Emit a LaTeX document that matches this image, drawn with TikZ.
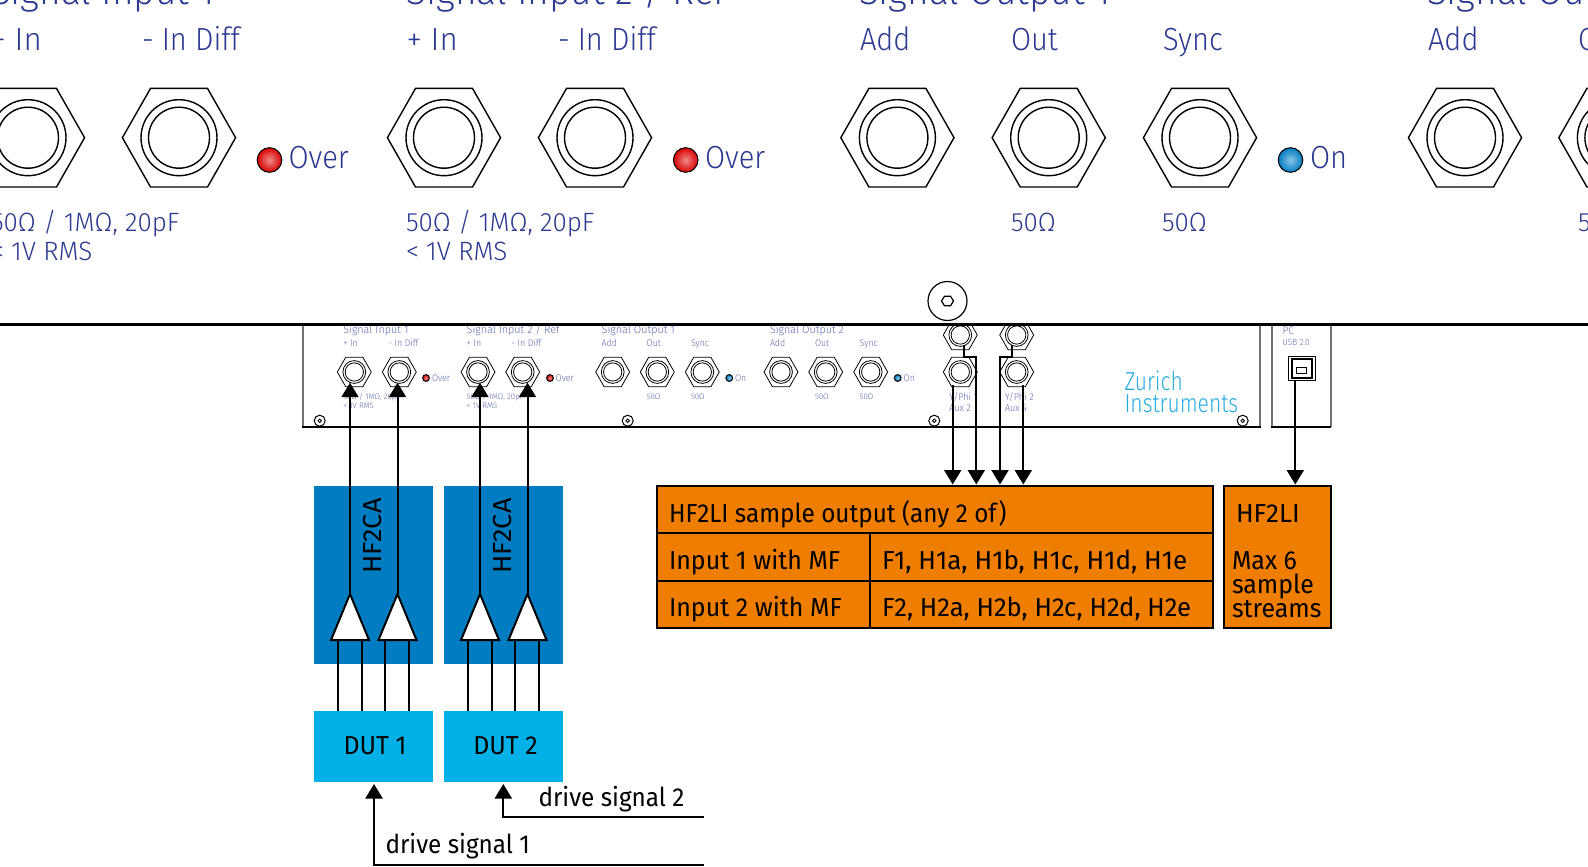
\documentclass[tikz,border=0pt]{standalone}
\usepackage{fontspec}
\setmainfont{Fira Sans}
\newfontfamily\pfont[FakeStretch=0.91]{Fira Sans Light}
\newfontfamily\wfont[FakeStretch=0.98]{Fira Sans Light}
\newfontfamily\bfont[FakeStretch=0.96]{Fira Sans}
\newfontfamily\bnfont[FakeStretch=0.935]{Fira Sans}
\newfontfamily\bwfont[FakeStretch=1.0]{Fira Sans}
\newfontfamily\bxfont[FakeStretch=0.985]{Fira Sans}
\newfontfamily\zfont[FakeStretch=0.81]{Fira Sans Light}
\usetikzlibrary{arrows.meta}
\definecolor{panelblue}{RGB}{43,57,144}
\definecolor{smallblue}{RGB}{95,105,175}
\definecolor{hfblue}{RGB}{0,124,195}
\definecolor{dutblue}{RGB}{0,176,230}
\definecolor{orangebox}{RGB}{239,125,0}
\definecolor{zurichblue}{RGB}{41,171,226}
\tikzset{
  x=1pt,y=-1pt,
  conn/.style={line width=2pt,draw=black,-{Triangle[length=14.5pt,width=17pt]}},
  wire/.style={line width=2pt,draw=black},
  ptext/.style={anchor=base west,inner sep=0pt,outer sep=0pt,text=panelblue,font=\pfont\fontsize{#1}{#1}\selectfont},
  wtext/.style={anchor=base west,inner sep=0pt,outer sep=0pt,text=panelblue,font=\wfont\fontsize{#1}{#1}\selectfont},
  stext/.style={anchor=base west,inner sep=0pt,outer sep=0pt,text=smallblue,font=\pfont\fontsize{#1}{#1}\selectfont},
  swtext/.style={anchor=base west,inner sep=0pt,outer sep=0pt,text=smallblue,font=\wfont\fontsize{#1}{#1}\selectfont},
  btext/.style={anchor=base west,inner sep=0pt,outer sep=0pt,text=black,font=\bfont\fontsize{26}{26}\selectfont},
  bntext/.style={anchor=base west,inner sep=0pt,outer sep=0pt,text=black,font=\bnfont\fontsize{26}{26}\selectfont},
  bwtext/.style={anchor=base west,inner sep=0pt,outer sep=0pt,text=black,font=\bwfont\fontsize{26}{26}\selectfont},
  bxtext/.style={anchor=base west,inner sep=0pt,outer sep=0pt,text=black,font=\bxfont\fontsize{26}{26}\selectfont},
  ztext/.style={anchor=base west,inner sep=0pt,outer sep=0pt,text=zurichblue,font=\zfont\fontsize{26}{26}\selectfont},
  fillbox/.style={inner sep=0pt,outer sep=0pt,draw=none},
  ampbox/.style={draw=black,line width=2pt,fill=white,line join=miter},
  panelside/.style={line width=1.6pt,draw=black!55},
  panelbase/.style={line width=1.2pt,draw=black},
}
\newcommand{\jack}[5]{%
  \coordinate (#1) at (#2,#3);
  \begin{scope}[shift={(#2,#3)},scale=#4,line width=#5pt,draw=black]
    \draw (-56.6,0) -- (-28.5,-49.3) -- (28.5,-49.3) -- (56.6,0) -- (28.5,49.3) -- (-28.5,49.3) -- cycle;
    \draw (0,0) circle[radius=38];
    \draw (0,0) circle[radius=30.5];
  \end{scope}}
\newcommand{\led}[5]{%
  \coordinate (#1) at (#2,#3);
  \shade[inner color=#5!45!white,outer color=#5] (#2,#3) circle[radius=#4];
  \draw[black,line width=1pt] (#2,#3) circle[radius=#4];}
\newcommand{\screw}[3]{%
  \coordinate (#1) at (#2,#3);
  \draw[line width=1pt] (#2,#3) circle[radius=5.5];
  \draw[line width=.8pt] (#2,#3) circle[radius=1.8];}
\begin{document}
\begin{tikzpicture}
\useasboundingbox (0,0) rectangle (1588,867);
\clip (0,0) rectangle (1588,867);
% ---------- large front view
\node[wtext=37.8] (ti1) at (-9,5) {Signal Input 1};
\node[wtext=37.8] (ti2) at (406.5,5) {Signal Input 2 / Ref};
\node[wtext=37.8] (to1) at (859,5) {Signal Output 1};
\node[wtext=37.8] (to2) at (1427,5) {Signal Output 2};
\node[wtext=32] (l1) at (-9.5,51) {+ In};
\node[ptext=32] (l2) at (142,51) {- In Diff};
\node[wtext=32] (l3) at (406.5,51) {+ In};
\node[ptext=32] (l4) at (558,51) {- In Diff};
\node[ptext=32] (l5) at (860,51) {Add};
\node[ptext=32] (l6) at (1011,51) {Out};
\node[ptext=32] (l7) at (1163,51) {Sync};
\node[ptext=32] (l8) at (1428,51) {Add};
\node[ptext=32] (l9) at (1578,51) {Out};
\jack{ja}{28}{137.7}{1}{1.4}
\jack{jb}{179}{137.7}{1}{1.4}
\jack{jc}{444}{137.7}{1}{1.4}
\jack{jd}{595}{137.7}{1}{1.4}
\jack{je}{897.4}{137.7}{1}{1.4}
\jack{jf}{1048.7}{137.7}{1}{1.4}
\jack{jg}{1200}{137.7}{1}{1.4}
\jack{jh}{1465}{137.7}{1}{1.4}
\jack{ji}{1615.4}{137.7}{1}{1.4}
\led{lda}{269.5}{160}{12.3}{red!85!black}
\led{ldb}{685.7}{160}{12.3}{red!85!black}
\led{ldc}{1290.5}{160}{12.3}{hfblue}
\node[ptext=32] (o1) at (288.5,168) {Over};
\node[ptext=32] (o2) at (705,168) {Over};
\node[ptext=32] (o3) at (1310,168) {On};
\node[wtext=26.5] (s1) at (-9,231) {50Ω / 1MΩ, 20pF};
\node[wtext=26.5] (s2) at (-9,260) {< 1V RMS};
\node[wtext=26.5] (s3) at (406,231) {50Ω / 1MΩ, 20pF};
\node[wtext=26.5] (s4) at (406,260) {< 1V RMS};
\node[wtext=26.5] (s5) at (1011,231) {50Ω};
\node[wtext=26.5] (s6) at (1162,231) {50Ω};
\node[wtext=26.5] (s7) at (1578,231) {50Ω};
% ---------- bolt
\coordinate (bolt) at (947.5,301);
\draw[line width=1.2pt] (bolt) circle[radius=19.5];
\draw[line width=1.2pt] (941.5,301) -- (944.5,296.2) -- (950.5,296.2) -- (953.5,301) -- (950.5,305.8) -- (944.5,305.8) -- cycle;
% ---------- small rear panel
\draw[panelside] (302.7,324) -- (302.7,427);
\draw[panelside] (1260,324) -- (1260,427);
\draw[panelbase] (302,427) -- (1260.8,427);
\draw[panelside] (1271.7,324) -- (1271.7,427);
\draw[panelside] (1330.7,324) -- (1330.7,427);
\draw[panelbase] (1271,427) -- (1331.4,427);
\node[swtext=11] (sta) at (343.3,333) {Signal Input 1};
\node[swtext=11] (stb) at (466.7,333) {Signal Input 2 / Ref};
\node[swtext=11] (stc) at (601.7,333) {Signal Output 1};
\node[swtext=11] (std) at (770,333) {Signal Output 2};
\node[stext=9.7] (p1) at (343.3,346) {+ In};
\node[stext=9.7] (p2) at (388.7,346) {- In Diff};
\node[stext=9.7] (p3) at (466.7,346) {+ In};
\node[stext=9.7] (p4) at (511.7,346) {- In Diff};
\node[stext=9.7] (p5) at (601.7,346) {Add};
\node[stext=9.7] (p6) at (646.7,346) {Out};
\node[stext=9.7] (p7) at (691,346) {Sync};
\node[stext=9.7] (p8) at (770,346) {Add};
\node[stext=9.7] (p9) at (815,346) {Out};
\node[stext=9.7] (p10) at (859.7,346) {Sync};
\jack{sa}{354.3}{372}{.3}{.8}
\jack{sb}{399.3}{372}{.3}{.8}
\jack{sc}{478}{372}{.3}{.8}
\jack{sd}{522.7}{372}{.3}{.8}
\jack{se}{612.7}{372}{.3}{.8}
\jack{sf}{657.3}{372}{.3}{.8}
\jack{sg}{702.3}{372}{.3}{.8}
\jack{sh}{781}{372}{.3}{.8}
\jack{si}{825.7}{372}{.3}{.8}
\jack{sj}{870.7}{372}{.3}{.8}
\led{lde}{426}{378}{3.4}{red!85!black}
\led{ldf}{550}{378}{3.4}{red!85!black}
\led{ldg}{729.3}{378}{3.4}{hfblue}
\led{ldh}{897.7}{378}{3.4}{hfblue}
\node[stext=9.7] (v1) at (432,381) {Over};
\node[stext=9.7] (v2) at (555.7,381) {Over};
\node[stext=9.7] (v3) at (735,381) {On};
\node[stext=9.7] (v4) at (903.7,381) {On};
\node[swtext=8] (m1) at (343.3,399.3) {50Ω / 1MΩ, 20pF};
\node[swtext=8] (m2) at (343.3,408) {< 1V RMS};
\node[swtext=8] (m3) at (466.7,399.3) {50Ω / 1MΩ, 20pF};
\node[swtext=8] (m4) at (466.7,408) {< 1V RMS};
\node[swtext=8] (m5) at (646.7,399.3) {50Ω};
\node[swtext=8] (m6) at (691,399.3) {50Ω};
\node[swtext=8] (m7) at (815,399.3) {50Ω};
\node[swtext=8] (m8) at (859.7,399.3) {50Ω};
\screw{sc1}{319.7}{420.7}
\screw{sc2}{627.7}{420.7}
\screw{sc3}{934.3}{420.7}
\screw{sc4}{1242.7}{420.7}
\begin{scope}
  \clip (900,324) rectangle (1060,440);
  \jack{ya}{960.3}{335}{.3}{.8}
  \jack{yb}{1016.7}{335}{.3}{.8}
\end{scope}
\jack{yc}{960.3}{372}{.3}{.8}
\jack{yd}{1016.7}{372}{.3}{.8}
\node[stext=10] (y1) at (949.3,400) {Y/Phi 1};
\node[stext=10] (y2) at (949.3,411.7) {Aux 2};
\node[stext=10] (y3) at (1005,400) {Y/Phi 2};
\node[stext=10] (y4) at (1005,411.7) {Aux 4};
\node[ztext] (z1) at (1124.5,390) {Zurich};
\node[ztext] (z2) at (1124.5,412.3) {Instruments};
\node[stext=11] (pc) at (1282.7,334) {PC};
\node[stext=9] (usb) at (1282.7,345.7) {USB 2.0};
\node[draw=black,line width=1pt,fill=white,minimum width=26.7pt,minimum height=24.7pt,inner sep=0pt,outer sep=0pt] (usbo) at (1301.7,368.4) {};
\node[draw=black,line width=1.6pt,minimum width=20pt,minimum height=18.6pt,inner sep=0pt] (usbm) at (1301.7,368.4) {};
\node[draw=black,line width=.8pt,minimum width=10pt,minimum height=6pt,inner sep=0pt] (usbi) at (1301.7,370.3) {};
% ---------- thick separator
\coordinate (sepl) at (0,324);
\coordinate (sepr) at (1588,324);
\draw[line width=3pt] (sepl) -- (sepr);
% ---------- boxes
\node[fillbox,fill=hfblue,minimum width=119pt,minimum height=177.7pt] (hf1) at (373.5,574.85) {};
\node[fillbox,fill=hfblue,minimum width=119pt,minimum height=177.7pt] (hf2) at (503.5,574.85) {};
\node[fillbox,fill=dutblue,minimum width=119pt,minimum height=71pt] (dut1) at (373.5,746.5) {};
\node[fillbox,fill=dutblue,minimum width=119pt,minimum height=71pt] (dut2) at (503.5,746.5) {};
\node[btext,anchor=center] (dt1) at (375,745.5) {DUT 1};
\node[btext,anchor=center] (dt2) at (505.5,745.5) {DUT 2};
\node[bwtext,anchor=center,rotate=90,xscale=1.04] (hc1) at (372.5,536) {HF2CA};
\node[bwtext,anchor=center,rotate=90,xscale=1.04] (hc2) at (502.5,536) {HF2CA};
% ---------- amplifiers
\foreach \n/\x in {a/350,b/397.5,c/480,d/527.5}{
  \coordinate (amp\n) at (\x,594);
  \draw[ampbox] (\x-19,640) -- (\x,594) -- (\x+19,640) -- cycle;
}
\foreach \n/\x in {1/338,2/361.7,3/385.3,4/409,5/468,6/491.7,7/515.3,8/539}{
  \coordinate (wt\n) at (\x,640);
  \coordinate (wb\n) at (\x,711);
  \draw[wire] (wt\n) -- (wb\n);
}
\coordinate (ta) at (350,382.7);
\coordinate (tb) at (397.5,382.7);
\coordinate (tc) at (480,382.7);
\coordinate (td) at (527.5,382.7);
\draw[conn] (ampa) -- (ta);
\draw[conn] (ampb) -- (tb);
\draw[conn] (ampc) -- (tc);
\draw[conn] (ampd) -- (td);
% ---------- orange tables
\node[fillbox,draw=black,line width=2pt,fill=orangebox,minimum width=555.8pt,minimum height=142.3pt] (tab) at (934.9,557.15) {};
\node[fillbox,draw=black,line width=2pt,fill=orangebox,minimum width=106.6pt,minimum height=142.3pt] (li) at (1277.7,557.15) {};
\draw[line width=2pt] (657,533.3) -- (1212.8,533.3);
\draw[line width=2pt] (657,580.7) -- (1212.8,580.7);
\draw[line width=2pt] (870,533.3) -- (870,628.3);
\node[bntext] (t1) at (669,522.7) {HF2LI sample output (any 2 of)};
\node[btext] (t2) at (669,569.7) {Input 1 with MF};
\node[bwtext] (t3) at (882,569.7) {F1, H1a, H1b, H1c, H1d, H1e};
\node[btext] (t4) at (669,616.7) {Input 2 with MF};
\node[bxtext] (t5) at (882,616.7) {F2, H2a, H2b, H2c, H2d, H2e};
\node[bwtext] (t6) at (1236,522.7) {HF2LI};
\node[btext] (t7) at (1232,569.7) {Max 6};
\node[btext] (t8) at (1232,593) {sample};
\node[btext] (t9) at (1232,617) {streams};
% ---------- output arrows
\coordinate (oa0) at (952.7,385);
\coordinate (oa) at (952.7,484.5);
\coordinate (ob0) at (964,345);
\coordinate (ob) at (976.3,484.5);
\coordinate (oc0) at (1011.7,345);
\coordinate (oc) at (1000,484.5);
\coordinate (od0) at (1023.3,385);
\coordinate (od) at (1023.3,484.5);
\draw[conn] (oa0) -- (oa);
\draw[conn] (ob0) -- (964,356.7) -| (ob);
\draw[conn] (oc0) -- (1011.7,356.7) -| (oc);
\draw[conn] (od0) -- (od);
\coordinate (ue) at (1295.3,484.5);
\draw[conn] (1295.3,381) -- (ue);
% ---------- drive signals
\coordinate (d1) at (374,784);
\coordinate (d2) at (503.3,784);
\coordinate (d1e) at (704,865);
\coordinate (d2e) at (704,817.3);
\draw[conn] (d1e) -| (d1);
\draw[conn] (d2e) -| (d2);
\node[bntext] (dr1) at (385.5,853.7) {drive signal 1};
\node[bntext] (dr2) at (538.5,806) {drive signal 2};
\end{tikzpicture}
\end{document}
